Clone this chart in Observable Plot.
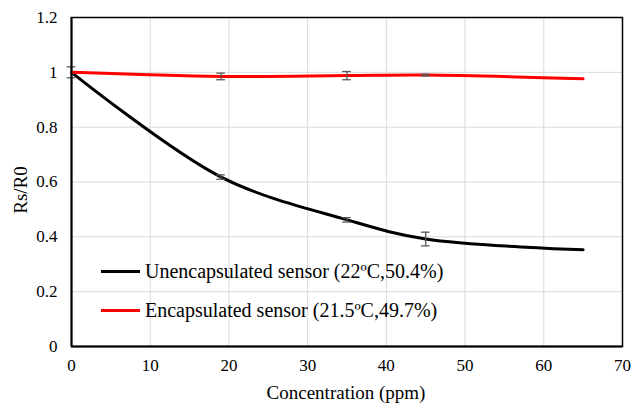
<!DOCTYPE html>
<html>
<head>
<meta charset="utf-8">
<script src="https://cdn.jsdelivr.net/npm/d3@7"></script>
<script src="https://cdn.jsdelivr.net/npm/@observablehq/plot@0.6"></script>
<style>
  html, body { margin: 0; padding: 0; background: #fff; }
  #wrap { position: relative; width: 632px; height: 407px; }
  #wrap svg, #wrap svg text { font-family: "Liberation Serif", "Times New Roman", serif !important; }
  .legend { position: absolute; left: 101px; font-family: "Liberation Serif", "Times New Roman", serif; font-size: 20px; color: #000; }
  .legend .row { position: absolute; left: 0; display: flex; align-items: center; white-space: nowrap; }
  .legend .sw { width: 39px; height: 3px; margin-right: 5px; }
</style>
</head>
<body>
<div id="wrap"></div>
<script>
const concentration = [0, 19, 35, 45, 65];
const unencapsulated = [1.0, 0.618, 0.462, 0.392, 0.353];
const unencapsulatedErr = [0.0, 0.008, 0.008, 0.025, 0];
const encapsulated = [1.0, 0.985, 0.988, 0.99, 0.977];
const encapsulatedErr = [0.02, 0.012, 0.015, 0.003, 0];
const seriesNames = ["Unencapsulated sensor (22ºC,50.4%)", "Encapsulated sensor (21.5ºC,49.7%)"];
const seriesColors = ["#000000", "#ff0000"];
const xTicks = [0, 10, 20, 30, 40, 50, 60, 70];
const yTicks = [0, 0.2, 0.4, 0.6, 0.8, 1, 1.2];

const rows = [];
concentration.forEach((c, i) => {
  rows.push({series: seriesNames[0], x: c, y: unencapsulated[i], e: unencapsulatedErr[i]});
});
concentration.forEach((c, i) => {
  rows.push({series: seriesNames[1], x: c, y: encapsulated[i], e: encapsulatedErr[i]});
});
const errRows = rows.filter(d => d.e > 0);

const chart = Plot.plot({
  width: 632,
  height: 407,
  marginLeft: 71,
  marginRight: 10,
  marginTop: 17,
  marginBottom: 61,
  style: {fontFamily: "Liberation Serif, serif", fontSize: "17px", color: "#000", background: "#fff"},
  x: {domain: [0, 70], ticks: xTicks, tickSize: 0, tickPadding: 12, label: null},
  y: {domain: [0, 1.2], ticks: yTicks, tickSize: 0, tickPadding: 14, label: null, tickFormat: d => String(d)},
  color: {domain: seriesNames, range: seriesColors},
  marks: [
    Plot.gridX(xTicks, {stroke: "#d9d9d9", strokeOpacity: 1, strokeWidth: 1}),
    Plot.gridY(yTicks, {stroke: "#d9d9d9", strokeOpacity: 1, strokeWidth: 1}),
    Plot.frame({stroke: "#000", strokeWidth: 1.5}),
    Plot.line(rows, {x: "x", y: "y", z: "series", stroke: "series", strokeWidth: 3, curve: "catmull-rom"}),
    Plot.ruleX(errRows, {x: "x", y1: d => d.y - d.e, y2: d => d.y + d.e, stroke: "#595959", strokeWidth: 1.3}),
    Plot.ruleY(errRows, {y: d => d.y - d.e, x1: d => d.x - 0.55, x2: d => d.x + 0.55, stroke: "#595959", strokeWidth: 1.3}),
    Plot.ruleY(errRows, {y: d => d.y + d.e, x1: d => d.x - 0.55, x2: d => d.x + 0.55, stroke: "#595959", strokeWidth: 1.3}),
    Plot.ruleX([0], {stroke: "#000", strokeWidth: 2}),
    Plot.ruleY([0], {stroke: "#000", strokeWidth: 2}),
    Plot.axisX({ticks: xTicks, tickSize: 0, tickPadding: 12, label: null, fontSize: 17}),
    Plot.axisY({ticks: yTicks, tickSize: 0, tickPadding: 14, label: null, fontSize: 17, tickFormat: d => String(d)})
  ]
});

const wrap = document.getElementById("wrap");
wrap.appendChild(chart);

const svg = d3.select(chart);
svg.append("text")
  .attr("x", 346).attr("y", 399)
  .attr("text-anchor", "middle")
  .style("font-size", "19px")
  .text("Concentration (ppm)");
svg.append("text")
  .attr("transform", "translate(27,190) rotate(-90)")
  .attr("text-anchor", "middle")
  .style("font-size", "19px")
  .text("Rs/R0");

const legend = document.createElement("div");
legend.className = "legend";
legend.style.top = "0px";
const legendTops = [260, 299];
seriesNames.forEach((name, i) => {
  const row = document.createElement("div");
  row.className = "row";
  row.style.top = legendTops[i] + "px";
  const sw = document.createElement("span");
  sw.className = "sw";
  sw.style.background = seriesColors[i];
  const t = document.createElement("span");
  t.textContent = name;
  row.appendChild(sw);
  row.appendChild(t);
  legend.appendChild(row);
});
wrap.appendChild(legend);
</script>
</body>
</html>
